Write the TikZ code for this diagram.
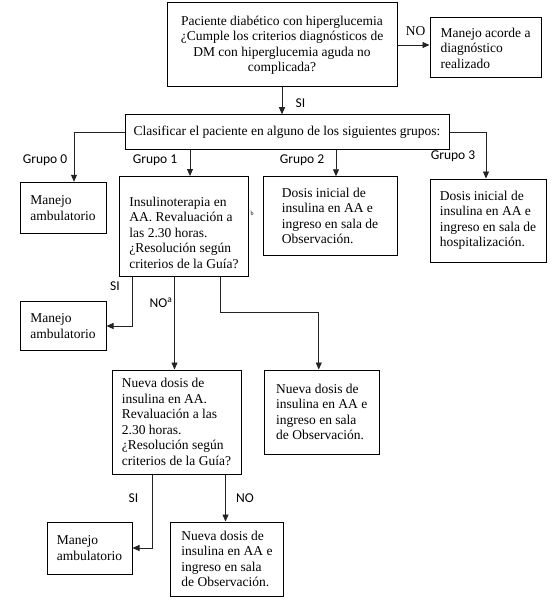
\documentclass[tikz,border=0pt]{standalone}
\usepackage{fontspec}
\setmainfont{Liberation Serif}
\newfontfamily\labelFont{Carlito}
\usetikzlibrary{positioning,arrows.meta}
\definecolor{lineColor}{RGB}{35,35,35}
\tikzstyle{flowBox} = [draw=black, line width=1pt, align=left, inner sep=0pt, font=\fontsize{13.5}{15.5}\selectfont]
\tikzstyle{centerBox} = [flowBox, align=center]
\tikzstyle{flowLine} = [draw=lineColor, line width=0.8pt]
\tikzstyle{flowArrow} = [flowLine, -{Triangle[length=7pt,width=6pt]}]
\tikzstyle{groupLabel} = [font=\labelFont\fontsize{13.5}{15}\selectfont, inner sep=0pt]
\tikzstyle{answerLabel} = [font=\fontsize{13.5}{15}\selectfont, inner sep=0pt]
\begin{document}
\begin{tikzpicture}[x=1pt, y=-1pt]
  \useasboundingbox (0,0) rectangle (556,604);

  % boxes
  \node [centerBox, minimum width=230pt, minimum height=84pt] (start) at (282,45)
    {Paciente diabético con  hiperglucemia\\ ¿Cumple los criterios diagnósticos de\\ DM con  hiperglucemia aguda no\\ complicada?};
  \node [flowBox, minimum width=111pt, minimum height=60pt] (other) at (485.5,48)
    {Manejo acorde a\\ diagnóstico\\ realizado};
  \node [centerBox, minimum width=324pt, minimum height=34.5pt] (clas) at (287,132)
    {Clasificar el paciente en alguno de los siguientes grupos:};
  \node [flowBox, minimum width=86pt, minimum height=51.5pt] (groupZero) at (63,208)
    {Manejo\\ ambulatorio};
  \node [flowBox, minimum width=128.5pt, minimum height=100pt, text height=84pt] (groupOne) at (184,226.5)
    {Insulinoterapia en\\ AA. Revaluación a\\ las 2.30 horas.\\ ¿Resolución según\\ criterios de la Guía?};
  \node [flowBox, minimum width=134pt, minimum height=78.5pt] (groupTwo) at (330,216)
    {Dosis inicial de\\ insulina en AA e\\ ingreso en sala de\\ Observación.};
  \node [flowBox, minimum width=116pt, minimum height=83pt] (groupThree) at (488,220.5)
    {Dosis inicial de\\ insulina en AA e\\ ingreso en sala de\\ hospitalización.};
  \node [flowBox, minimum width=86pt, minimum height=48.5pt] (ambOne) at (63,326)
    {Manejo\\ ambulatorio};
  \node [flowBox, minimum width=129pt, minimum height=104pt] (newDose) at (176.5,422)
    {Nueva dosis de\\ insulina en AA.\\ Revaluación a las\\ 2.30 horas.\\ ¿Resolución según\\ criterios de la Guía?};
  \node [flowBox, minimum width=115.5pt, minimum height=84pt] (obsOne) at (321.75,412)
    {Nueva dosis de\\ insulina en AA e\\ ingreso en sala\\ de Observación.};
  \node [flowBox, minimum width=85pt, minimum height=52pt] (ambTwo) at (89.5,548)
    {Manejo\\ ambulatorio};
  \node [flowBox, minimum width=113.5pt, minimum height=74pt] (obsTwo) at (227,559)
    {Nueva dosis de\\ insulina en AA e\\ ingreso en sala\\ de Observación.};

  % labels
  \node [answerLabel] (noTop) at (415.5,31) {NO};
  \node [groupLabel] (siTop) at (300.5,103) {SI};
  \node [groupLabel] (labelZero) at (45,160) {Grupo 0};
  \node [groupLabel] (labelOne) at (155,160) {Grupo 1};
  \node [groupLabel] (labelTwo) at (302,160) {Grupo 2};
  \node [groupLabel] (labelThree) at (453,156) {Grupo 3};
  \node [answerLabel, font=\fontsize{6}{7}\selectfont] (noteB) at (252,213) {b};
  \node [groupLabel] (siOne) at (115,286) {SI};
  \node [groupLabel] (noOne) at (161,302.5) {NO\textsuperscript{a}};
  \node [groupLabel] (siTwo) at (133.5,498.5) {SI};
  \node [groupLabel] (noTwo) at (245,498.5) {NO};

  % connectors
  \draw [flowArrow] (start.east) -- (start.east -| other.west);
  \draw [flowArrow] (start.south) -- (start.south |- clas.north);
  \draw [flowArrow] (clas.west) -| ([xshift=11pt]groupZero.north);
  \draw [flowArrow] ([xshift=6pt]groupOne.north |- clas.south) -- ([xshift=6pt]groupOne.north);
  \draw [flowArrow] ([xshift=6pt]groupTwo.north |- clas.south) -- ([xshift=6pt]groupTwo.north);
  \draw [flowArrow] (clas.east) -| ([xshift=-2pt]groupThree.north);
  \draw [flowArrow] ([xshift=-52pt]groupOne.south) |- (ambOne.east);
  \draw [flowArrow] ([xshift=-9.5pt]groupOne.south) -- ([xshift=-9.5pt]groupOne.south |- newDose.north);
  \draw [flowArrow] ([xshift=36pt]groupOne.south) -- ++(0,35.5) -| ([xshift=-3pt]obsOne.north);
  \draw [flowArrow] ([xshift=-24.5pt]newDose.south) |- (ambTwo.east);
  \draw [flowArrow] ([xshift=49pt]newDose.south) -- ([xshift=49pt]newDose.south |- obsTwo.north);
\end{tikzpicture}
\end{document}
